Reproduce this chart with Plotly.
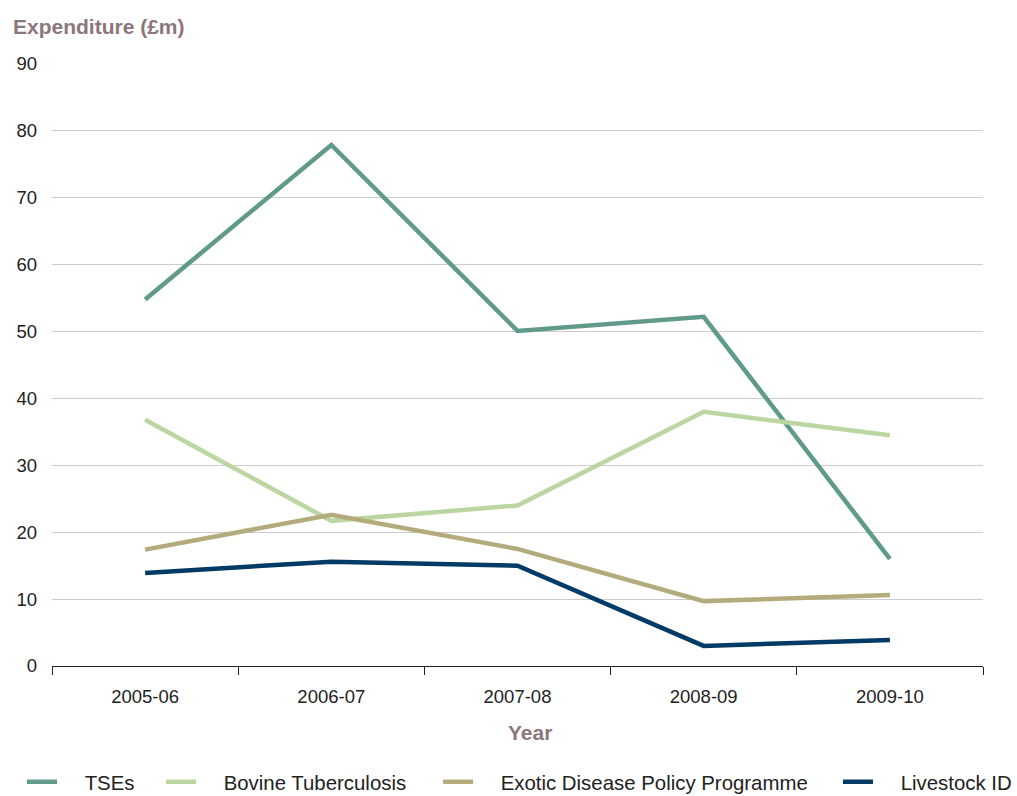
import plotly.graph_objects as go

years = ["2005-06", "2006-07", "2007-08", "2008-09", "2009-10"]
tses = [54.8, 77.9, 50.1, 52.2, 16.0]
bovine_tb = [36.8, 21.7, 24.0, 38.0, 34.5]
exotic = [17.4, 22.6, 17.5, 9.7, 10.6]
livestock_id = [13.9, 15.6, 15.0, 3.0, 3.9]

series = [
    ("TSEs", tses, "#609a8b"),
    ("Bovine Tuberculosis", bovine_tb, "#bcd6a1"),
    ("Exotic Disease Policy Programme", exotic, "#b4ab7c"),
    ("Livestock ID", livestock_id, "#003a66"),
]
legend_px = [22, 161, 438, 838]

FONT = "Liberation Sans, Arial, Helvetica, sans-serif"
MAUVE = "#8c767b"
NB = "\u00a0"

W, H = 1017, 796
ML, MR, MT, MB = 52, 34, 64, 130
pw, ph = W - ML - MR, H - MT - MB

fig = go.Figure()
legends = {}
for i, (name, vals, color) in enumerate(series):
    lg = "legend" if i == 0 else f"legend{i + 1}"
    fig.add_trace(go.Scatter(
        x=years, y=vals, name=NB * 4 + name, mode="lines",
        line=dict(color=color, width=4.5), legend=lg,
    ))
    legends[lg] = dict(
        orientation="h", x=(legend_px[i] - ML) / pw, xanchor="left",
        y=(H - MB - 782) / ph, yanchor="middle",
        font=dict(size=20.4, color="#222222", family=FONT),
        itemwidth=30, bgcolor="rgba(0,0,0,0)",
    )

fig.update_layout(
    width=W, height=H,
    margin=dict(l=ML, r=MR, t=MT, b=MB, autoexpand=False),
    paper_bgcolor="white", plot_bgcolor="white",
    font=dict(family=FONT, size=18.5, color="#222222"),
    showlegend=True,
    xaxis=dict(
        type="category", range=[-0.5, 4.5],
        tickson="boundaries", ticks="outside", ticklen=8, tickcolor="#222222",
        showline=True, linecolor="#222222", linewidth=1,
        showgrid=False, ticklabelstandoff=14,
        tickfont=dict(size=18.5, color="#222222"),
    ),
    yaxis=dict(
        range=[0, 90], tickvals=[0, 10, 20, 30, 40, 50, 60, 70, 80, 90],
        showgrid=True, gridcolor="#cccccc", gridwidth=1.2,
        zeroline=False, showline=False, ticks="",
        ticklabelstandoff=14,
        tickfont=dict(size=18.5, color="#222222"),
    ),
    annotations=[
        dict(text="<b>Expenditure (£m)</b>", xref="paper", yref="paper",
             x=(11 - ML) / pw, y=(H - MB - 27) / ph, xanchor="left", yanchor="middle",
             showarrow=False, font=dict(size=21, color=MAUVE, family=FONT)),
        dict(text="<b>Year</b>", xref="paper", yref="paper",
             x=(530 - ML) / pw, y=(H - MB - 732) / ph, xanchor="center", yanchor="middle",
             showarrow=False, font=dict(size=21, color=MAUVE, family=FONT)),
    ],
    **legends,
)

fig.write_html("out.html")
